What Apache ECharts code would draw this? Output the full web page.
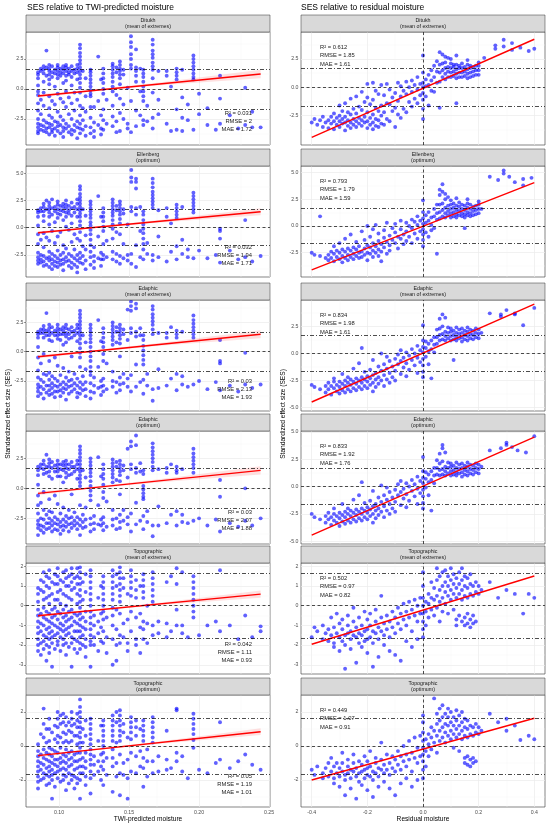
<!DOCTYPE html>
<html>
<head>
<meta charset="utf-8">
<script src="https://cdn.jsdelivr.net/npm/echarts@6/dist/echarts.min.js"></script>
<style>
    html, body { margin: 0; padding: 0; background: #fff; }
    #chart { width: 550px; height: 825px; }
</style>
</head>
<body>
<div id="chart"></div>
<script>
// ---------------- data ----------------
const stripTitles = [
    ['Ditukh', '(mean of extremes)'],
    ['Ellenberg', '(optimum)'],
    ['Edaphic', '(mean of extremes)'],
    ['Edaphic', '(optimum)'],
    ['Topographic', '(mean of extremes)'],
    ['Topographic', '(optimum)']
];
// R2, RMSE, MAE
const twiStats = [['0.031', '2', '1.72'], ['0.032', '1.94', '1.71'], ['0.03', '2.13', '1.93'],
    ['0.03', '2.07', '1.88'], ['0.042', '1.11', '0.93'], ['0.05', '1.19', '1.01']];
const residStats = [['0.612', '1.85', '1.61'], ['0.793', '1.79', '1.59'], ['0.834', '1.98', '1.61'],
    ['0.833', '1.92', '1.76'], ['0.502', '0.97', '0.82'], ['0.449', '1.07', '0.91']];

const twiTicks = [0.10, 0.15, 0.20, 0.25];
const residTicks = [-0.4, -0.2, 0.0, 0.2, 0.4];
const twiYTicks = [[-2.5, 0, 2.5], [-2.5, 0, 2.5, 5], [-2.5, 0, 2.5], [-2.5, 0, 2.5], [-3, -2, -1, 0, 1, 2], [-2, 0, 2]];
const residYTicks = [[-2.5, 0, 2.5], [-2.5, 0, 2.5, 5], [-5, -2.5, 0, 2.5, 5], [-5, -2.5, 0, 2.5, 5], [-3, -2, -1, 0, 1, 2], [-2, 0, 2]];

// thresholds drawn as reference lines
const sesZero = 0;
const sesSig = 1.65;

// fitted lines (start, end)
const twiFitX = [0.085, 0.244];
const twiFitY = [[-0.58, 1.25], [-0.46, 1.47], [-0.43, 1.49], [-0.42, 1.5], [-0.51, 0.59], [-0.57, 0.84]];
const residFitX = [-0.4, 0.4];
const residFitY = [[-4.41, 4.24], [-4.11, 4.05], [-4.48, 4.54], [-4.43, 4.52], [-1.96, 1.51], [-2.0, 1.63]];
// confidence band of the TWI fits: [x, lower, upper]
const twiBands = [
    [[0.085, -0.73, -0.43], [0.12, -0.25, -0.11], [0.17, 0.28, 0.52], [0.244, 0.9, 1.6]],
    [[0.085, -0.6, -0.32], [0.12, -0.1, 0.03], [0.17, 0.46, 0.68], [0.244, 1.15, 1.79]],
    [[0.085, -0.58, -0.28], [0.12, -0.08, 0.06], [0.17, 0.48, 0.72], [0.244, 1.15, 1.83]],
    [[0.085, -0.57, -0.27], [0.12, -0.07, 0.07], [0.17, 0.49, 0.73], [0.244, 1.16, 1.84]],
    [[0.085, -0.59, -0.43], [0.12, -0.31, -0.23], [0.17, 0.02, 0.14], [0.244, 0.41, 0.77]],
    [[0.085, -0.66, -0.48], [0.12, -0.3, -0.22], [0.17, 0.11, 0.25], [0.244, 0.64, 1.04]]
];

// points, one row per x value: [x, y1, y2, ...]
const ditukhTwi = [
    [0.085, 1.4, 1.2, 0.9, 0.3, -0.2, -0.5, -1.2, -1.8, -2.5, -2.9, -3.2, -3.5, -3.7],
    [0.087, 1.7, 1.5, -0.9, -2.1, -3.0, -3.4],
    [0.089, 1.9, 1.6, 1.3, 0.6, -0.3, -1.4, -2.6, -3.1, -3.5],
    [0.091, 3.2, 1.8, 1.1, -2.8, -3.3, -3.6],
    [0.093, 2.0, 1.7, 1.5, 1.2, 0.8, 0.4, -0.6, -1.6, -2.2, -2.9, -3.2, -3.8],
    [0.095, 1.9, 1.4, 1.0, -1.0, -2.4, -3.0, -3.4, -3.6],
    [0.097, 1.6, 1.3, 0.2, -1.3, -2.7, -3.3, -3.9],
    [0.099, 2.0, 1.8, 1.5, 1.2, 0.9, -0.4, -1.9, -2.8, -3.1, -3.5],
    [0.101, 1.7, 1.4, 1.1, -0.8, -2.3, -3.0, -3.7],
    [0.103, 1.9, 1.6, 1.3, 0.5, -1.1, -2.6, -3.2, -3.5, -4.0],
    [0.105, 2.0, 1.8, 1.5, 1.1, 0.7, -0.2, -1.5, -2.9, -3.3],
    [0.107, 1.7, 1.4, 1.2, -0.7, -2.1, -3.1, -3.6],
    [0.109, 1.9, 1.5, 1.0, 0.3, -1.2, -2.5, -3.4, -3.8],
    [0.111, 1.6, 1.3, -0.3, -1.8, -3.0, -3.5],
    [0.113, 2.0, 1.7, 1.4, 0.8, -0.9, -2.7, -3.2, -4.1],
    [0.115, 3.7, 3.4, 3.0, 2.7, 2.4, 2.1, 1.8, 1.5, 1.2, 0.9, 0.5, 0.1, -0.3, -1.4, -2.2, -2.9, -3.3, -3.7],
    [0.117, 1.5, -1.6, -2.6, -3.4],
    [0.119, 0.9, -0.6, -1.9, -3.1, -3.9],
    [0.1225, 1.6, 1.4, 1.1, 0.8, 0.5, 0.2, -0.1, -0.4, -0.6, -1.5, -2.4, -3.2, -3.7],
    [0.125, -1.5, -2.8, -3.5, -4.0],
    [0.128, 2.7, -1.0, -3.0],
    [0.130, 0.8, -2.2, -3.3, -3.8],
    [0.1316, 1.7, 1.3, 0.9, 0.5, 0.0, -0.4, -1.7, -2.6, -3.4],
    [0.134, -0.9, -2.9],
    [0.1383, 2.1, 1.9, 1.6, 1.3, 1.0, 0.6, 0.2, -0.2, -1.4, -2.3, -3.1],
    [0.141, 1.8, 1.4, -0.5, -2.7, -3.6],
    [0.1435, 2.3, 2.0, 1.7, 1.5, 1.2, 0.9, 0.4, -0.8, -2.0, -3.5],
    [0.146, 1.6, 1.2, -1.3, -2.5],
    [0.149, 0.1, -2.9, -3.3],
    [0.1514, 4.4, 3.9, 3.5, 2.9, 2.5, 2.0, 1.7, -1.0, -3.6],
    [0.155, 3.3, 1.8, 1.5, 1.1, 0.6, -1.8, -3.1],
    [0.158, 1.7, -0.2, -2.2],
    [0.1602, 1.6, 1.3, 1.0, 0.6, 0.2, -0.2, -0.6, -1.0, -2.6, -3.0],
    [0.163, -1.4, -2.7],
    [0.1669, 4.1, 3.7, 3.2, 2.9, 2.6, 2.2, 1.9, 1.6, 0.9, -0.3, -2.4, -3.3],
    [0.171, 1.5, -0.9, -2.1],
    [0.1769, 1.5, 1.1, -2.9],
    [0.180, 0.2, -3.5],
    [0.184, 1.7, 1.4, 1.1, 0.8, -1.7, -3.4],
    [0.188, 1.6, -0.7, -2.4, -3.5],
    [0.192, -1.3, -2.6],
    [0.196, 2.8, 2.5, 2.2, 1.9, 1.6, 1.3, 1.0, 0.8, -3.4],
    [0.200, -0.4, -2.1], [0.206, -1.6, -3.0], [0.212, -3.4], [0.215, 1.1, -0.8, -2.9],
    [0.222, -2.2], [0.228, -3.3], [0.233, 0.1, -3.0], [0.238, -1.9, -3.2], [0.244, -3.2]
];
const ellenbergTwi = [
    [0.085, 1.6, 1.4, 1.0, 0.2, -0.6, -1.5, -2.3, -2.7, -3.0, -3.3],
    [0.087, 1.8, 1.5, -1.1, -2.5, -2.9, -3.2],
    [0.089, 2.2, 1.9, 1.5, 1.1, 0.6, -0.5, -1.8, -2.6, -3.1, -3.5],
    [0.091, 2.5, 1.7, -0.9, -2.8, -3.4],
    [0.093, 2.3, 2.0, 1.7, 1.4, 1.0, 0.3, -1.2, -2.2, -2.7, -3.0, -3.6],
    [0.095, 2.6, 1.8, 1.2, -0.3, -2.4, -2.9, -3.3, -3.8],
    [0.097, 1.9, 1.5, 0.5, -1.4, -2.6, -3.1, -3.5],
    [0.099, 2.4, 2.1, 1.7, 1.3, 0.9, -0.8, -2.1, -2.8, -3.2, -3.6],
    [0.101, 2.0, 1.6, 1.2, -0.4, -2.5, -3.0, -3.4],
    [0.103, 2.2, 1.9, 1.5, 0.7, -1.6, -2.3, -2.9, -3.3, -3.9],
    [0.105, 2.5, 2.1, 1.8, 1.4, 1.0, 0.1, -1.9, -2.7, -3.1],
    [0.107, 2.0, 1.6, 1.3, -0.2, -2.4, -3.0, -3.5],
    [0.109, 2.3, 1.8, 1.1, 0.4, -1.3, -2.6, -3.2, -3.7],
    [0.111, 1.9, 1.4, -0.6, -2.0, -2.8, -3.4],
    [0.113, 2.6, 2.2, 1.7, 1.0, -1.0, -2.5, -3.0, -3.6, -4.1],
    [0.115, 3.8, 3.5, 3.1, 2.8, 2.5, 2.2, 1.9, 1.6, 1.3, 1.0, 0.6, 0.2, -0.4, -1.2, -2.3, -2.8, -3.2],
    [0.117, 1.7, -1.7, -2.6, -3.3],
    [0.119, 1.1, -0.7, -2.0, -3.0, -3.8],
    [0.1225, 2.4, 2.1, 1.8, 1.5, 1.2, 0.9, 0.5, 0.2, -0.2, -0.6, -1.1, -1.6, -2.2, -2.7, -3.4],
    [0.125, -1.8, -2.6, -3.1, -3.7],
    [0.128, 2.9, -0.8, -2.8],
    [0.130, 1.0, -2.3, -2.9, -3.5],
    [0.1316, 1.8, 1.4, 1.0, 0.6, 0.1, -0.3, -1.5, -2.5, -2.9],
    [0.134, -1.2, -2.7],
    [0.1383, 2.6, 2.3, 2.0, 1.7, 1.4, 1.1, 0.7, 0.3, -0.1, -1.0, -2.2, -2.9],
    [0.141, 2.0, 1.6, -0.4, -2.4, -3.1],
    [0.1435, 2.4, 2.1, 1.8, 1.5, 1.2, 0.8, 0.4, -0.6, -2.6, -3.3],
    [0.146, 1.7, 1.3, -1.5, -2.8],
    [0.149, 0.3, -2.5, -3.0],
    [0.1516, 5.3, 4.6, 4.2, 1.9, 1.5, -2.4, -3.3],
    [0.155, 4.5, 4.2, 3.6, 1.8, 1.2, -1.6, -3.6],
    [0.158, 1.9, -0.3, -2.7],
    [0.1602, 1.5, 1.2, 0.7, 0.3, -0.1, -0.5, -1.0, -1.5, -2.0, -2.9],
    [0.163, -1.4, -2.4],
    [0.1669, 4.5, 4.1, 3.7, 3.3, 3.0, 2.7, 2.4, 2.1, 1.8, -2.5, -3.0],
    [0.171, 1.6, -0.8, -2.7],
    [0.1769, 1.8, 1.0, -3.1],
    [0.180, 0.4, -2.2],
    [0.184, 2.1, 1.8, 1.5, 1.2, 0.9, -1.7, -2.9],
    [0.188, 1.9, -1.1, -2.4],
    [0.192, -2.0, -2.7],
    [0.196, 3.2, 2.9, 2.6, 2.3, 2.0, 1.7, 1.4, -2.8],
    [0.200, -2.1], [0.206, -2.8], [0.212, -2.5], [0.215, -0.1, -0.3, -1.0, -3.2],
    [0.222, -2.1], [0.228, -2.9], [0.233, 0.7, -2.7], [0.238, -3.1], [0.244, -2.6]
];
const edaphicMeanTwi = [
    [0.085, 1.7, 1.5, 1.2, 0.4, -0.5, -1.6, -2.2, -2.8, -3.1, -3.4, -3.8],
    [0.087, 1.9, 1.6, -1.0, -2.4, -3.0, -3.6],
    [0.089, 2.2, 1.9, 1.6, 1.2, -0.2, -1.9, -2.6, -3.2, -4.0],
    [0.091, 3.3, 1.8, 1.4, -2.0, -2.9, -3.5],
    [0.093, 2.3, 2.0, 1.7, 1.4, 1.0, -0.8, -1.8, -2.4, -2.9, -3.3, -3.7],
    [0.095, 2.1, 1.6, 0.9, -2.1, -2.7, -3.1, -3.6],
    [0.097, 1.8, 1.4, -0.5, -2.3, -2.9, -3.4, -3.9],
    [0.099, 2.3, 2.0, 1.7, 1.4, 1.1, -1.2, -2.5, -3.0, -3.4],
    [0.101, 1.9, 1.5, 1.0, -2.0, -2.8, -3.3, -3.8],
    [0.103, 2.1, 1.8, 1.5, 0.6, -1.4, -2.6, -3.1, -3.5],
    [0.105, 2.3, 2.0, 1.6, 1.3, 0.8, -2.2, -2.8, -3.2, -4.1],
    [0.107, 1.9, 1.5, 1.1, -1.7, -2.5, -3.0, -3.6],
    [0.109, 2.1, 1.7, 1.2, -0.4, -2.4, -2.9, -3.4],
    [0.111, 1.8, 1.4, -1.9, -2.7, -3.2],
    [0.113, 2.3, 2.0, 1.6, 0.9, -2.3, -2.9, -3.5, -3.9],
    [0.115, 3.5, 3.2, 2.9, 2.6, 2.3, 2.0, 1.7, 1.4, 1.1, 0.7, 0.3, -0.1, -0.5, -1.3, -2.6, -3.1, -3.6],
    [0.117, 1.4, -2.1, -2.8, -3.3],
    [0.119, 0.8, -1.5, -2.6, -3.2, -3.8],
    [0.1225, 2.3, 2.0, 1.7, 1.4, 1.1, 0.8, 0.4, 0.0, -0.4, -0.8, -1.3, -1.7, -2.0, -2.7, -3.4, -4.0],
    [0.125, -2.2, -2.9, -3.5],
    [0.128, 2.7, -1.3, -3.1],
    [0.130, 0.9, -2.5, -3.0, -3.7],
    [0.1316, 2.0, 1.6, 1.2, 0.8, 0.4, -0.2, -0.8, -2.3, -2.9, -3.4],
    [0.134, -1.0, -3.2],
    [0.1383, 2.5, 2.2, 1.9, 1.6, 1.3, 1.0, 0.6, -1.7, -2.5, -3.0],
    [0.141, 2.1, 1.7, 0.8, -2.6, -3.5],
    [0.1435, 2.3, 2.0, 1.7, 1.4, 1.1, 0.7, -0.4, -2.2, -2.8, -3.3],
    [0.146, 1.9, 1.5, -1.9, -2.7],
    [0.149, 3.6, 1.0, -2.3, -3.0],
    [0.1514, 4.3, 3.9, 3.5, 2.0, 1.6, -2.0, -3.4],
    [0.155, 4.1, 3.7, 1.7, 1.3, -1.1, -3.0],
    [0.158, 2.0, 1.4, -2.6],
    [0.1602, 1.4, 1.0, 0.5, 0.1, -0.3, -0.7, -1.1, -2.4, -3.6],
    [0.163, -1.9, -2.9],
    [0.1669, 3.9, 3.6, 3.2, 2.9, 2.6, 2.3, 1.9, 1.5, -3.2, -4.2],
    [0.171, 1.6, -1.5, -3.1],
    [0.1769, 1.6, 1.2, -2.9],
    [0.180, 2.1, -2.3],
    [0.184, 1.8, 1.5, 1.2, -1.9, -3.3],
    [0.188, 1.7, -2.1, -2.8],
    [0.192, -3.0],
    [0.196, 3.1, 2.7, 2.4, 2.1, 1.8, 1.5, 1.2, -2.8],
    [0.200, -2.5], [0.206, -3.2], [0.212, -2.6], [0.215, 1.0, -0.8, -1.0, -3.3],
    [0.222, -2.9], [0.228, -3.4], [0.233, -0.1, -2.8], [0.238, -3.1], [0.244, -2.8]
];
const edaphicOptTwi = [
    [0.085, 1.8, 1.5, 1.1, 0.3, -0.6, -1.4, -2.1, -2.7, -3.0, -3.3, -3.9],
    [0.087, 2.0, 1.7, -1.2, -2.5, -3.1, -3.5],
    [0.089, 2.3, 2.0, 1.6, 1.2, -0.3, -1.8, -2.6, -3.2, -3.7],
    [0.091, 2.8, 1.8, 1.3, -2.2, -2.9, -3.4],
    [0.093, 2.4, 2.1, 1.8, 1.4, 1.0, -0.9, -1.9, -2.5, -2.9, -3.3],
    [0.095, 2.2, 1.7, 0.8, -2.0, -2.7, -3.1, -3.6],
    [0.097, 1.9, 1.4, -0.6, -2.4, -2.9, -3.4],
    [0.099, 2.3, 2.0, 1.7, 1.4, 1.0, -1.3, -2.6, -3.0, -3.5],
    [0.101, 2.0, 1.6, 1.0, -2.1, -2.8, -3.2, -3.8],
    [0.103, 2.2, 1.9, 1.5, 0.5, -1.6, -2.6, -3.1, -3.5],
    [0.105, 2.3, 2.0, 1.7, 1.3, 0.9, -2.3, -2.8, -3.2],
    [0.107, 2.0, 1.6, 1.1, -1.8, -2.5, -3.0, -3.6],
    [0.109, 2.2, 1.8, 1.2, -0.5, -2.4, -2.9, -3.3],
    [0.111, 1.8, 1.4, -2.0, -2.7, -3.1],
    [0.113, 2.3, 2.0, 1.6, 0.8, -2.4, -2.9, -3.4],
    [0.115, 3.5, 3.2, 2.9, 2.6, 2.3, 2.0, 1.7, 1.4, 1.1, 0.8, 0.5, 0.2, -1.4, -2.6, -3.1, -3.9],
    [0.117, 1.5, -2.2, -2.8, -3.3],
    [0.119, 0.9, -1.6, -2.6, -3.2],
    [0.1225, 2.5, 2.2, 1.9, 1.6, 1.3, 1.0, 0.6, 0.2, -0.2, -0.6, -1.0, -2.5, -3.0, -3.6],
    [0.125, -2.3, -2.9, -3.4],
    [0.128, 2.6, -1.4, -3.0],
    [0.130, 1.0, -2.6, -3.1],
    [0.1316, 2.0, 1.6, 1.2, 0.8, 0.3, -0.3, -0.8, -2.4, -2.9, -3.5],
    [0.134, -1.1, -3.2],
    [0.1383, 2.4, 2.1, 1.8, 1.5, 1.2, 0.9, 0.5, -1.8, -2.6, -3.1],
    [0.141, 2.2, 1.8, 0.7, -2.5, -3.4],
    [0.1435, 2.3, 2.0, 1.7, 1.4, 1.1, 0.6, -0.5, -2.2, -2.8, -3.3],
    [0.146, 1.9, 1.5, -1.8, -2.7],
    [0.149, 3.3, 0.9, -2.4, -3.0],
    [0.1514, 3.9, 3.5, 2.0, 1.6, -2.1, -3.6],
    [0.155, 4.4, 3.6, 1.7, 1.3, -1.2, -3.0],
    [0.158, 2.1, 1.4, -2.7],
    [0.1602, 1.5, 1.2, 0.2, -0.1, -0.4, -0.7, -0.9, -2.3, -3.4],
    [0.163, -1.9, -2.8],
    [0.1669, 3.75, 3.4, 3.1, 2.8, 2.5, 2.2, 1.8, 1.5, -3.1, -4.0],
    [0.171, 1.6, -1.5, -3.1],
    [0.1769, 1.7, 1.3, -2.9],
    [0.180, 2.0, -2.2],
    [0.184, 1.8, 1.5, 1.3, -1.9, -3.1],
    [0.188, 1.6, -2.2, -2.8],
    [0.192, -2.9],
    [0.196, 3.3, 2.9, 2.6, 2.3, 2.0, 1.7, 1.3, -2.7],
    [0.200, -2.5], [0.206, -3.1], [0.212, -2.6], [0.215, 0.7, -0.7, -3.6],
    [0.222, -2.9], [0.228, -3.2], [0.233, 0.0, -2.7], [0.238, -3.1], [0.244, -2.5]
];
const topoMeanTwi = [
    [0.085, 0.9, 0.6, 0.2, -0.2, -0.5, -0.8, -1.1, -1.4, -1.7, -2.0, -2.3],
    [0.087, 1.3, 0.8, -0.4, -0.9, -1.3, -1.9, -2.5],
    [0.089, 1.7, 1.2, 0.7, 0.3, -0.1, -0.6, -1.0, -1.5, -1.8, -2.2],
    [0.091, 1.5, 1.0, 0.4, -0.3, -0.7, -1.2, -1.6, -2.0, -2.8],
    [0.093, 1.8, 1.4, 0.9, 0.5, 0.1, -0.4, -0.8, -1.1, -1.4, -1.7, -2.1, -2.4],
    [0.095, 1.2, 0.6, -0.2, -0.6, -0.9, -1.3, -1.6, -1.9, -3.1],
    [0.097, 1.6, 1.1, 0.3, -0.1, -0.5, -1.0, -1.5, -2.2],
    [0.099, 1.9, 1.5, 1.1, 0.7, 0.3, -0.3, -0.7, -1.1, -1.4, -1.8, -2.0],
    [0.101, 1.3, 0.8, 0.1, -0.4, -0.9, -1.2, -1.6, -2.3],
    [0.103, 1.7, 1.2, 0.6, -0.2, -0.6, -1.0, -1.3, -1.7, -2.0],
    [0.105, 1.8, 1.4, 1.0, 0.5, 0.0, -0.5, -0.8, -1.2, -1.5, -1.9, -2.5],
    [0.107, 1.5, 1.0, 0.4, -0.3, -0.7, -1.1, -1.4, -2.1],
    [0.109, 1.9, 1.6, 1.2, 0.8, 0.3, -0.2, -0.6, -1.0, -1.6, -1.9, -3.1],
    [0.111, 1.4, 0.9, -0.4, -0.8, -1.3, -1.7, -2.2],
    [0.113, 1.9, 1.5, 1.1, 0.6, 0.1, -0.5, -0.9, -1.3, -1.8, -2.4],
    [0.115, 1.95, 1.7, 1.4, 1.1, 0.8, 0.5, 0.2, -0.1, -0.4, -0.7, -1.0, -1.3, -1.6, -1.9, -2.2],
    [0.117, 1.2, 0.3, -0.6, -1.1, -1.5, -2.0],
    [0.119, 1.6, 0.7, -0.3, -0.8, -1.2, -1.7, -2.1, -2.6],
    [0.1225, 1.8, 1.5, 1.2, 0.9, 0.6, 0.3, 0.0, -0.3, -0.6, -0.9, -1.2, -1.5, -1.8, -2.0, -3.1],
    [0.125, -0.5, -1.0, -1.6, -2.0],
    [0.128, 0.4, -0.8, -1.4, -2.3],
    [0.130, 1.0, -0.4, -1.1, -1.8],
    [0.1316, 1.5, 1.2, 0.9, 0.6, 0.3, 0.0, -0.3, -0.7, -1.3, -1.9],
    [0.134, -0.6, -1.6, -2.4],
    [0.1383, 1.8, 1.5, 1.2, 0.9, 0.6, 0.3, -0.1, -0.5, -1.0, -1.7, -3.0],
    [0.141, 1.6, 1.0, -0.2, -1.2, -2.0, -2.8],
    [0.1435, 1.95, 1.7, 1.4, 1.1, 0.8, 0.5, 0.2, -0.4, -1.5, -1.9],
    [0.146, 1.4, 0.9, -0.9, -1.6],
    [0.149, 0.6, -0.7, -1.9, -2.3],
    [0.1514, 1.8, 1.5, 1.2, 0.9, 0.5, -0.3, -1.3],
    [0.155, 1.3, 0.8, 0.4, -0.6, -1.7, -2.0],
    [0.158, 1.0, -0.4, -1.1, -2.4],
    [0.1602, 1.6, 1.3, 1.0, 0.7, 0.4, -0.8, -1.2, -1.7],
    [0.163, 0.0, -0.9, -1.9],
    [0.1669, 1.7, 1.4, 1.1, 0.8, 0.5, 0.2, -1.0, -1.5],
    [0.171, -0.8, -1.4],
    [0.1769, 1.2, -0.9, -1.6],
    [0.180, 1.5, -1.3],
    [0.184, 1.9, 1.1, -0.2, -1.0],
    [0.188, 1.7, -1.4, -1.0],
    [0.192, -1.6],
    [0.196, 1.5, 1.2, 0.9, 0.6, 0.3, 0.0, -0.3, -0.6],
    [0.200, -1.5], [0.206, -1.0], [0.212, -0.8], [0.215, 1.8, -1.3],
    [0.222, -1.0], [0.228, -1.7], [0.233, -0.5], [0.238, -1.6], [0.244, -1.3, -1.05]
];
const topoOptTwi = [
    [0.085, 0.1, -0.3, -0.6, -0.9, -1.2, -1.5, -1.8, -2.1, -2.5],
    [0.087, 0.7, -0.5, -1.0, -1.4, -2.0],
    [0.089, 2.2, 1.3, 0.5, -0.2, -0.7, -1.1, -1.6, -1.9],
    [0.091, 1.0, 0.2, -0.4, -0.8, -1.3, -1.7, -2.3],
    [0.093, 1.6, 1.0, 0.3, -0.1, -0.5, -0.9, -1.2, -1.5, -1.8, -2.2],
    [0.095, 0.8, -0.2, -0.6, -1.0, -1.4, -1.7, -2.0, -3.1],
    [0.097, 1.2, 0.4, -0.3, -0.8, -1.1, -1.6, -2.4],
    [0.099, 2.0, 1.6, 1.1, 0.6, 0.2, -0.4, -0.8, -1.2, -1.5, -1.9],
    [0.101, 1.8, 1.3, 0.5, -0.1, -0.7, -1.0, -1.4, -2.1],
    [0.103, 1.9, 1.4, 0.8, 0.2, -0.5, -0.9, -1.3, -1.7, -2.0],
    [0.105, 1.7, 1.2, 0.7, 0.3, -0.2, -0.6, -1.0, -1.4, -1.8, -2.6],
    [0.107, 1.4, 0.9, 0.2, -0.4, -0.8, -1.2, -1.6, -2.2],
    [0.109, 2.0, 1.6, 1.2, 0.8, 0.3, -0.3, -0.7, -1.1, -1.7, -2.0],
    [0.111, 1.3, 0.6, -0.5, -0.9, -1.4, -1.8, -2.5],
    [0.113, 1.9, 1.5, 1.1, 0.6, 0.1, -0.4, -0.9, -1.3, -1.9, -2.2],
    [0.115, 2.74, 2.3, 2.0, 1.7, 1.4, 1.1, 0.8, 0.5, 0.2, -0.1, -0.4, -0.8, -1.2, -1.6, -2.0, -3.1],
    [0.117, 1.0, 0.2, -0.7, -1.2, -1.6],
    [0.119, 1.5, 0.6, -0.4, -0.9, -1.3, -1.8, -2.3],
    [0.1225, 1.6, 1.3, 1.0, 0.7, 0.4, 0.1, -0.2, -0.5, -0.8, -1.1, -1.5, -1.9, -2.8],
    [0.125, -0.6, -1.1, -1.7],
    [0.128, 0.3, -0.9, -1.5],
    [0.130, 1.2, -0.5, -1.2, -2.0],
    [0.1316, 1.5, 1.2, 0.9, 0.6, 0.3, 0.0, -0.4, -0.9, -1.4, -2.3],
    [0.134, -0.7, -1.7],
    [0.1383, 1.8, 1.5, 1.2, 0.9, 0.6, 0.3, -0.2, -0.7, -1.2, -2.7],
    [0.141, 2.0, 1.4, 0.2, -1.0, -1.8],
    [0.1435, 2.1, 1.8, 1.5, 1.2, 0.9, 0.6, 0.3, -0.5, -1.6, -2.9],
    [0.146, 1.3, 0.8, -1.0, -1.7],
    [0.149, 0.5, -0.8, -1.9, -3.1],
    [0.1514, 1.7, 1.4, 1.1, 0.8, 0.4, -0.4, -1.5],
    [0.155, 1.5, 1.1, 0.6, -0.6, -1.6],
    [0.158, 1.0, -0.3, -1.2],
    [0.1602, 1.5, 1.2, 0.9, 0.6, 0.3, -0.7, -1.3, -2.4],
    [0.163, -0.2, -0.9, -1.8],
    [0.1669, 1.7, 1.4, 1.1, 0.8, 0.5, 0.2, -0.9, -1.6],
    [0.171, -0.6, -1.5],
    [0.1769, 0.9, -0.8, -1.4],
    [0.180, -1.3],
    [0.184, 2.2, 2.1, -0.4, -0.9],
    [0.188, -1.5, -0.6],
    [0.192, -1.9],
    [0.196, 1.9, 1.6, 1.3, 1.0, 0.7, 0.35, -0.1],
    [0.200, -1.4], [0.206, -1.6], [0.212, -1.0], [0.215, 1.4, -0.8],
    [0.222, -1.3], [0.228, -0.9], [0.233, -0.5], [0.238, -1.1], [0.244, -1.4]
];

const ditukhResid = [
    [-0.40, -3.1], [-0.39, -2.8], [-0.38, -3.3], [-0.37, -2.9], [-0.36, -3.5, -2.6], [-0.35, -3.1],
    [-0.34, -3.6, -2.9], [-0.33, -3.2, -2.6], [-0.32, -3.7, -3.0, -2.3], [-0.31, -3.3, -2.7],
    [-0.30, -3.5, -3.0, -2.5, -1.6], [-0.29, -3.2, -2.8, -2.1], [-0.28, -3.8, -3.1, -2.6, -1.4], [-0.27, -3.4, -2.9, -2.2],
    [-0.26, -3.6, -3.1, -2.4, -1.0], [-0.25, -3.3, -2.8, -1.9], [-0.24, -3.5, -3.0, -2.3, -0.8], [-0.23, -3.2, -2.7, -1.7],
    [-0.22, -3.4, -2.9, -2.0, -0.4], [-0.21, -3.1, -2.6, -1.3], [-0.20, -3.6, -3.0, -2.2, -0.9, 0.3], [-0.19, -3.3, -2.7, -1.5],
    [-0.18, -3.7, -3.1, -2.4, -1.1, 0.4], [-0.17, -3.4, -2.8, -1.8, -0.3], [-0.16, -3.5, -2.9, -2.1, -0.6], [-0.15, -3.2, -2.5, -1.6, 0.2],
    [-0.14, -3.3, -2.2, -0.7], [-0.13, -2.8, -1.4, 0.3], [-0.12, -3.0, -1.5, -0.2], [-0.11, -2.1, -0.9],
    [-0.10, -3.5, -1.8, -0.5], [-0.09, -2.4, -1.2, 0.4], [-0.08, -2.7, -0.8, 0.1], [-0.07, -1.9, -0.3],
    [-0.06, -2.2, -0.6, 0.5], [-0.05, -1.3, 0.0], [-0.04, -1.7, -0.4, 0.6], [-0.03, -1.0, 0.2],
    [-0.02, -1.4, -0.2, 0.9], [-0.01, -0.7, 0.3], [0.00, -2.8, -1.9, -1.1, -0.5, 0.0, 0.4, 1.3, 2.8], [0.01, -0.8, 0.1, 0.7],
    [0.02, -1.6, 0.2, 1.1], [0.03, -0.3, 0.6, 1.5], [0.04, -0.4, 0.9, 1.9], [0.05, 0.4, 1.4, 2.3],
    [0.06, -1.8, 0.5, 1.3, 2.0, 3.1], [0.07, 0.9, 1.5, 2.1, 2.9], [0.08, 0.7, 1.2, 1.7, 2.2, 2.7], [0.09, 0.9, 1.4, 1.8, 2.6],
    [0.10, 0.9, 1.3, 1.7, 2.1, 2.5], [0.11, 1.0, 1.4, 1.8, 2.0], [0.12, -1.4, 0.8, 1.2, 1.6, 2.0, 2.8], [0.13, 0.9, 1.3, 1.7, 1.9],
    [0.14, 0.9, 1.3, 1.7, 2.1], [0.15, 1.0, 1.4, 1.8], [0.16, 0.8, 1.2, 1.6, 2.0, 2.4], [0.17, 0.9, 1.3, 1.7, 1.9],
    [0.18, 1.0, 1.4, 1.8], [0.19, 1.1, 1.5, 1.9], [0.20, 1.1, 1.5, 1.9, 2.2], [0.22, 2.6],
    [0.26, 3.7, 3.4], [0.29, 4.2, 3.6], [0.32, 3.9, 3.3], [0.35, 3.5], [0.38, 3.2], [0.40, 3.4]
];
const ellenbergResid = [
    [-0.40, -2.5], [-0.39, -2.7], [-0.37, 0.9, -2.8], [-0.35, -3.0],
    [-0.34, -2.7, -3.2], [-0.33, -2.4, -3.0], [-0.32, -2.6, -3.3, -1.9], [-0.31, -2.3, -2.9],
    [-0.30, -2.5, -3.1, -1.6], [-0.29, -2.2, -2.8, -3.4], [-0.28, -2.4, -3.0, -1.2], [-0.27, -2.1, -2.7, -3.2],
    [-0.26, -2.3, -2.9, -0.8], [-0.25, -2.0, -2.6, -3.1], [-0.24, -2.2, -2.8, -1.5], [-0.23, -1.9, -2.5, -3.0],
    [-0.22, -2.4, -2.9, -0.5], [-0.21, -2.1, -2.7, -1.3], [-0.20, -1.8, -2.5, -3.2, 0.0], [-0.19, -2.0, -2.6, -1.0],
    [-0.18, -1.6, -2.3, -2.9, -0.3], [-0.17, -1.9, -2.5, 0.1], [-0.16, -1.4, -2.2, -2.8, -0.7], [-0.15, -1.7, -2.4, -3.3],
    [-0.14, -1.1, -2.0, -0.4], [-0.13, -1.5, -2.6, 0.3], [-0.12, -0.9, -1.8, -2.3], [-0.11, -1.3, -0.2],
    [-0.10, -1.6, -0.6, 0.2], [-0.09, -2.1, -1.0], [-0.08, -1.2, -0.3, 0.5], [-0.07, -1.7, -0.8],
    [-0.06, -0.5, 0.3, -1.4], [-0.05, -1.0, 0.0], [-0.04, -1.6, -0.2, 0.6], [-0.03, -0.7, 0.4],
    [-0.02, -1.2, 0.1, 0.9], [-0.01, -0.5, 0.5], [0.00, -1.9, -1.3, -0.8, -0.3, 0.2, 0.7, 1.3, 2.4], [0.01, -0.6, 0.3, 1.0],
    [0.02, -1.0, 0.5, 1.3], [0.03, 0.1, 0.8, -0.4], [0.04, -0.2, 0.9, 1.6], [0.05, 0.6, 1.2, -2.6, 2.0],
    [0.06, 0.7, 1.3, 2.0, 2.9, 3.4], [0.07, 0.9, 1.5, 2.1, 3.2, 3.9], [0.08, 0.8, 1.2, 1.7, 2.5, 3.0], [0.09, 1.0, 1.4, 1.9, 2.7],
    [0.10, 0.8, 1.2, 1.6, 2.0, 2.4], [0.11, 0.9, 1.3, 1.7, 2.1], [0.12, 0.8, 1.1, 1.5, 1.9, 2.6], [0.13, 1.0, 1.4, 1.8, 2.2],
    [0.14, 0.9, 1.2, 1.6, 2.0], [0.15, 0.8, 1.1, 1.5, 1.9, -0.2], [0.16, 1.0, 1.3, 1.7, 2.1, 2.5], [0.17, 0.9, 1.2, 1.6, 2.0],
    [0.18, 1.0, 1.4, 1.8], [0.19, 1.1, 1.5, 1.9], [0.20, 1.2, 1.6, 2.0, 2.3], [0.21, 1.6],
    [0.24, 4.6], [0.27, 4.3], [0.29, 5.2, 4.9], [0.31, 4.6], [0.33, 4.1], [0.36, 4.4, 3.8], [0.39, 4.5]
];
const edaphicMeanResid = [
    [-0.40, -2.9], [-0.39, -3.1], [-0.37, -3.3], [-0.35, -3.0, -3.6],
    [-0.34, -2.7, -3.3], [-0.33, -3.0, -3.8], [-0.32, -2.6, -3.2, -2.3], [-0.31, -2.9, -3.5],
    [-0.30, -2.6, -3.1, -3.7], [-0.29, -2.8, -3.4, -1.9], [-0.28, -2.5, -3.0, -3.6], [-0.27, -2.7, -3.3, -2.2],
    [-0.26, -2.4, -2.9, -3.5], [-0.25, -2.6, -3.2, -1.4], [-0.24, -2.3, -2.8, -3.4], [-0.23, -2.5, -3.1, -0.9],
    [-0.22, -2.2, -2.7, -3.3, 0.5], [-0.21, -2.4, -3.0, -1.7], [-0.20, -2.1, -2.6, -3.2], [-0.19, -1.5, -2.3, -2.9],
    [-0.18, -2.0, -2.7, -3.5, -0.6], [-0.17, -1.8, -2.4, -3.1], [-0.16, -1.2, -2.2, -2.8], [-0.15, -1.6, -2.5, 0.0],
    [-0.14, -1.0, -2.0, -3.0], [-0.13, -1.4, -2.4, -0.3], [-0.12, -0.7, -1.8, -2.7], [-0.11, -1.2, -2.2],
    [-0.10, -0.5, -1.6, -2.5], [-0.09, -1.0, -0.1], [-0.08, -1.9, -0.7, 0.3], [-0.07, -1.3, -0.4],
    [-0.06, -0.9, 0.1, -2.1], [-0.05, -1.5, -0.2], [-0.04, -0.6, 0.4], [-0.03, -1.1, 0.0],
    [-0.02, -0.4, 0.7, -1.8], [-0.01, -0.8, 0.3], [0.00, -2.2, -1.7, -1.1, -0.5, 0.1, 0.6, 1.2, 2.6], [0.01, -0.3, 0.5, 1.1],
    [0.02, 0.2, 0.9, -1.0], [0.03, 0.4, 1.2, -2.3], [0.04, 0.1, 0.8, 1.5], [0.05, 0.9, 1.5, 2.2],
    [0.06, 1.2, 1.7, 2.3, 3.2], [0.07, 1.3, 1.8, 2.5, 3.6], [0.08, 1.2, 1.6, 2.0, 3.3], [0.09, 1.4, 1.9, 2.4],
    [0.10, 1.2, 1.6, 2.0, 2.3], [0.11, 1.3, 1.7, 2.1, -0.6], [0.12, 1.2, 1.5, 1.9, 2.4], [0.13, 1.4, 1.8, 2.2],
    [0.14, 1.1, 1.5, 1.9, 2.3], [0.15, 1.3, 1.7, 2.1], [0.16, 1.2, 1.6, 2.0, 2.4], [0.17, 1.4, 1.8, 2.2],
    [0.18, 1.3, 1.7, 2.1], [0.19, 1.5, 1.9, 2.3], [0.20, 1.4, 1.8, 2.2], [0.21, 1.9],
    [0.24, 3.7], [0.28, 3.4, 3.6], [0.30, 4.0], [0.33, 3.6, 3.7], [0.36, 2.6], [0.40, 4.2]
];
const edaphicOptResid = [
    [-0.40, -2.5], [-0.39, -2.8], [-0.37, -3.0], [-0.35, -2.7, -3.3],
    [-0.34, -2.4, -3.0], [-0.33, -2.8, -3.5], [-0.32, -2.5, -3.1, -2.0], [-0.31, -2.7, -3.3],
    [-0.30, -2.4, -2.9, -3.6], [-0.29, -2.6, -3.2, -1.6], [-0.28, -2.3, -2.8, -3.4], [-0.27, -2.5, -3.1, -2.0],
    [-0.26, -2.2, -2.7, -3.3], [-0.25, -2.4, -3.0, -1.2], [-0.24, -2.1, -2.6, -3.2], [-0.23, -2.3, -2.9, -0.8],
    [-0.22, -2.0, -2.5, -3.1, 0.4], [-0.21, -2.2, -2.8, -1.5], [-0.20, -1.9, -2.4, -3.0], [-0.19, -1.3, -2.1, -2.7],
    [-0.18, -1.8, -2.5, -3.3, -0.4], [-0.17, -1.6, -2.2, -2.9], [-0.16, -1.0, -2.0, -2.6], [-0.15, -1.4, -2.3, 0.1],
    [-0.14, -0.8, -1.8, -2.8], [-0.13, -1.2, -2.2, -0.1], [-0.12, -0.5, -1.6, -2.5], [-0.11, -1.0, -2.0],
    [-0.10, -0.3, -1.4, -2.3], [-0.09, -0.8, 0.2], [-0.08, -1.7, -0.5, 0.5], [-0.07, -1.1, -0.2],
    [-0.06, -0.7, 0.3, -1.9], [-0.05, -1.3, 0.0], [-0.04, -0.4, 0.6], [-0.03, -0.9, 0.2],
    [-0.02, -0.2, 0.9, -1.6], [-0.01, -0.6, 0.5], [0.00, -2.0, -1.5, -0.9, -0.3, 0.3, 0.8, 1.4, 2.7], [0.01, -0.1, 0.7, 1.3],
    [0.02, 0.4, 1.1, -0.8], [0.03, 0.6, 1.4, -2.2], [0.04, 0.3, 1.0, 1.7], [0.05, 1.1, 1.7, 2.4],
    [0.06, 1.0, 1.5, 2.1, 3.0], [0.07, 1.1, 1.6, 2.3, 3.5, 3.8], [0.08, 1.0, 1.4, 1.8, 3.1], [0.09, 1.2, 1.7, 2.2],
    [0.10, 1.0, 1.4, 1.8, 2.1], [0.11, 1.1, 1.5, 1.9], [0.12, 1.0, 1.3, 1.7, 2.2], [0.13, 1.2, 1.6, 2.0],
    [0.14, 0.9, 1.3, 1.7, 2.1], [0.15, 1.1, 1.5, 1.9], [0.16, 1.0, 1.4, 1.8, 2.2], [0.17, 1.2, 1.6, 2.0],
    [0.18, 1.1, 1.5, 1.9], [0.19, 1.3, 1.7, 2.1], [0.20, 1.2, 1.6, 2.0], [0.21, 1.8],
    [0.24, 3.3], [0.28, 3.5], [0.30, 4.0, 3.8], [0.32, 3.6], [0.34, 3.3], [0.37, 3.1], [0.40, 4.6]
];
const topoMeanResid = [
    [-0.40, -1.6], [-0.39, -1.1], [-0.38, -1.3], [-0.36, -1.7, -1.0], [-0.35, -1.4],
    [-0.34, -1.2, -1.8], [-0.33, -0.6, -1.5], [-0.32, -1.1, -1.9, -2.1], [-0.31, -1.4, -0.4],
    [-0.30, -0.9, -1.6, -2.3], [-0.29, -1.2, -1.8, -0.7], [-0.28, -1.5, -2.0, -3.2], [-0.27, -1.0, -1.4, -0.5],
    [-0.26, -1.3, -1.7, -2.2], [-0.25, -0.8, -1.5, -0.1], [-0.24, -1.1, -1.6, -2.9], [-0.23, -1.4, -1.9, -0.6],
    [-0.22, -1.0, -1.5, -2.1], [-0.21, -1.3, -1.8, -0.3], [-0.20, -0.7, -1.2, -1.7, -2.4], [-0.19, -1.0, -1.6, -0.4],
    [-0.18, -1.3, -1.9, -3.1], [-0.17, -0.8, -1.4, -0.2], [-0.16, -1.1, -1.7, -2.6], [-0.15, -0.6, -1.3, 0.5],
    [-0.14, -0.9, -1.5, -2.0], [-0.13, -1.2, -0.5], [-0.12, -0.8, -1.6, -2.3], [-0.11, -1.1, -0.3],
    [-0.10, -0.6, -1.4, -2.5], [-0.09, -0.9, -0.1], [-0.08, -0.4, -1.2, -2.8], [-0.07, -0.7, 0.1],
    [-0.06, -0.3, -1.0, -1.8], [-0.05, -0.6, 0.2], [-0.04, -0.2, -1.3, -2.1], [-0.03, -0.5, 0.3],
    [-0.02, 0.0, -0.8, -1.7], [-0.01, -0.4, 0.4], [0.00, -1.6, -1.2, -0.8, -0.4, 0.0, 0.4, 1.0, 1.7], [0.01, -0.3, 0.2, -1.0],
    [0.02, 0.1, 0.6, -0.6], [0.03, -0.2, 0.4, 1.2], [0.04, 0.3, 0.9, -0.5], [0.05, -0.1, 0.5, 1.3, 1.9],
    [0.06, 0.2, 0.8, 1.5, -0.8], [0.07, 0.4, 1.0, 1.7, -0.3], [0.08, 0.1, 0.7, 1.2, 1.8], [0.09, 0.5, 1.0, 1.5, -0.4],
    [0.10, 0.3, 0.8, 1.3, 1.9], [0.11, 0.6, 1.1, 1.6, -0.2], [0.12, 0.4, 0.9, 1.4, -0.7, -1.0], [0.13, 0.6, 1.1, 1.7, -0.5],
    [0.14, 0.3, 0.8, 1.3, 1.9, -0.8], [0.15, 0.5, 1.0, 1.5, -0.6, -1.0], [0.16, 0.4, 0.9, 1.4, -0.4, -0.9], [0.17, 0.6, 1.1, 1.6, -0.7, -1.1],
    [0.18, 0.5, 1.0, -0.5, -0.9], [0.19, 0.7, 1.2, -0.8], [0.20, 0.6, 1.0], [0.21, 0.8],
    [0.24, 1.2], [0.27, 0.4], [0.30, 0.8], [0.33, 0.6], [0.36, -0.4], [0.38, 0.6], [0.40, 0.4]
];
const topoOptResid = [
    [-0.40, -1.4], [-0.39, -1.7], [-0.38, -1.2], [-0.36, -1.6, -1.9], [-0.35, -1.3],
    [-0.34, -1.0, -1.8], [-0.33, -1.5, -0.7], [-0.32, -1.2, -1.9, -2.2], [-0.31, -1.6, -1.0],
    [-0.30, -1.3, -1.8, -2.4], [-0.29, -1.0, -1.5, -0.4], [-0.28, -1.7, -2.0, -2.9], [-0.27, -1.2, -1.6, -0.8],
    [-0.26, -1.4, -1.9, -2.5], [-0.25, -1.0, -1.5, -0.5], [-0.24, -1.3, -1.8, -3.1], [-0.23, -1.6, -2.1, -0.9],
    [-0.22, -1.1, -1.5, -2.3], [-0.21, -1.4, -1.9, -0.6], [-0.20, -0.9, -1.3, -1.7, -2.6], [-0.19, -1.2, -1.8, -0.3],
    [-0.18, -1.5, -2.0, -3.0], [-0.17, -1.0, -1.6, -0.7], [-0.16, -1.3, -1.8, -2.4], [-0.15, -0.8, -1.4, 0.2],
    [-0.14, -1.1, -1.6, -2.1], [-0.13, -1.4, -0.5], [-0.12, -1.0, -1.7, -2.5], [-0.11, -1.3, -0.6],
    [-0.10, -0.8, -1.5, -2.9], [-0.09, -1.1, -0.3], [-0.08, -0.6, -1.4, -2.2], [-0.07, -0.9, 0.0],
    [-0.06, -0.5, -1.2, -1.9], [-0.05, -0.8, 0.3], [-0.04, -0.4, -1.5, -2.4], [-0.03, -0.7, 0.5],
    [-0.02, -0.1, -1.0, -2.0], [-0.01, -0.6, 0.6], [0.00, -1.9, -1.4, -0.9, -0.5, -0.1, 0.3, 0.8, 1.4, 1.8], [0.01, -0.3, 0.4, -1.2],
    [0.02, 0.1, 0.7, -0.6], [0.03, 0.5, 1.1, -0.2], [0.04, 0.2, 0.9, 2.8], [0.05, 0.6, 1.3, -0.4, 1.9],
    [0.06, 0.3, 0.9, 1.5, 2.2], [0.07, 0.5, 1.1, 1.7, 2.4], [0.08, 0.2, 0.8, 1.3, 1.9], [0.09, 0.6, 1.2, 1.7, 2.2],
    [0.10, 0.4, 0.9, 1.4, 2.0], [0.11, 0.7, 1.2, 1.7, -0.1], [0.12, 0.5, 1.0, 1.5, 2.1], [0.13, 0.7, 1.2, 1.8, -0.3],
    [0.14, 0.4, 0.9, 1.4, 2.0], [0.15, 0.6, 1.1, 1.6, -0.7, -1.0], [0.16, 0.5, 1.0, 1.5, -0.6, -1.1], [0.17, 0.7, 1.2, -0.8, -1.2],
    [0.18, 0.6, 1.1, -0.7, -1.0], [0.19, 0.8, 1.3, -0.9], [0.20, 0.7, 1.1], [0.21, 0.9],
    [0.24, 1.9], [0.27, 1.4], [0.30, 1.6, 0.9], [0.33, 1.2], [0.35, 0.35], [0.38, 0.6], [0.40, 0.4]
];

const twiPoints = [ditukhTwi, ellenbergTwi, edaphicMeanTwi, edaphicOptTwi, topoMeanTwi, topoOptTwi];
const residPoints = [ditukhResid, ellenbergResid, edaphicMeanResid, edaphicOptResid, topoMeanResid, topoOptResid];

// ---------------- layout ----------------
const FONT = '"Liberation Sans", Arial, sans-serif';
const plotTop = [32, 166, 300, 431, 563, 695];
const plotBottom = [145, 277, 411, 544, 674, 807];
const stripH = 17;
const colLeft = [26, 301];
const colWidth = 244;
const twiRange = [0.0764, 0.2507];
const residRange = [-0.4385, 0.4385];
const twiYRange = [[-4.67, 4.75], [-4.52, 5.66], [-5.07, 4.42], [-4.64, 4.78], [-3.47, 2.17], [-3.59, 3.0]];
const residYRange = [[-5.09, 4.88], [-4.77, 5.61], [-5.31, 4.93], [-5.25, 5.07], [-3.47, 2.17], [-3.59, 3.0]];

function expand(rows) {
    const out = [];
    rows.forEach(function (r) {
        for (let j = 1; j < r.length; j++) out.push([r[0], r[j]]);
    });
    return out;
}

function minors(ticks, range) {
    const step = ticks[1] - ticks[0];
    const out = [];
    for (let v = ticks[0] - step / 2; v <= range[1]; v += step) {
        if (v >= range[0]) out.push(+v.toFixed(4));
    }
    return out;
}

const majorGrid = {color: '#EBEBEB', width: 0.7, type: 'solid'};
const minorGrid = {color: '#F4F4F4', width: 0.4, type: 'solid'};
const dashed = {color: '#000', width: 0.7, type: [3, 2.5]};
const dotdash = {color: '#000', width: 0.7, type: [4, 2, 1, 2]};

const chart = echarts.init(document.getElementById('chart'), null, {renderer: 'canvas'});

const grids = [], xAxes = [], yAxes = [], series = [], graphics = [];

function addPanel(col, row) {
    const k = col * 6 + row;
    const isTwi = col === 0;
    const xTicks = isTwi ? twiTicks : residTicks;
    const xRange = isTwi ? twiRange : residRange;
    const yTicks = isTwi ? twiYTicks[row] : residYTicks[row];
    const yRange = isTwi ? twiYRange[row] : residYRange[row];
    const yStep = yTicks[1] - yTicks[0];
    const yDec = Number.isInteger(yStep) ? 0 : 1;
    const bottom = row === 5;

    grids.push({
        left: colLeft[col], top: plotTop[row], width: colWidth, height: plotBottom[row] - plotTop[row],
        show: true, borderColor: '#333', borderWidth: 0.6, backgroundColor: '#fff',
        containLabel: false, outerBoundsMode: 'none'
    });
    xAxes.push({
        gridIndex: k, type: 'value', min: xRange[0], max: xRange[1],
        axisLine: {show: false},
        splitLine: {show: false},
        axisTick: {show: bottom, length: 2, customValues: xTicks, lineStyle: {color: '#333', width: 0.5}},
        axisLabel: {
            show: bottom, customValues: xTicks, margin: 3, fontSize: 5.2, color: '#4D4D4D', fontFamily: FONT,
            formatter: function (v) { return v.toFixed(isTwi ? 2 : 1); }
        }
    });
    yAxes.push({
        gridIndex: k, type: 'value', min: yRange[0], max: yRange[1],
        axisLine: {show: false},
        splitLine: {show: false},
        axisTick: {show: true, length: 2, customValues: yTicks, lineStyle: {color: '#333', width: 0.5}},
        axisLabel: {
            show: true, customValues: yTicks, margin: 2.5, fontSize: 5.2, color: '#4D4D4D', fontFamily: FONT,
            formatter: function (v) { return v.toFixed(yDec); }
        }
    });

    // background grid lines
    const gl = [];
    minors(yTicks, yRange).forEach(function (v) { gl.push({yAxis: v, lineStyle: minorGrid}); });
    minors(xTicks, xRange).forEach(function (v) { gl.push({xAxis: v, lineStyle: minorGrid}); });
    yTicks.forEach(function (v) { gl.push({yAxis: v, lineStyle: majorGrid}); });
    xTicks.forEach(function (v) { if (v <= xRange[1]) gl.push({xAxis: v, lineStyle: majorGrid}); });
    series.push({
        type: 'line', xAxisIndex: k, yAxisIndex: k, data: [], silent: true,
        markLine: {silent: true, z: 1, symbol: ['none', 'none'], label: {show: false}, animation: false, data: gl}
    });

    // points
    series.push({
        type: 'scatter', xAxisIndex: k, yAxisIndex: k, z: 2, silent: true,
        symbolSize: 3.9,
        itemStyle: {color: 'rgba(0,0,255,0.62)', opacity: 1},
        data: expand(isTwi ? twiPoints[row] : residPoints[row])
    });

    // confidence band
    if (isTwi) {
        const band = twiBands[row];
        series.push({
            type: 'custom', xAxisIndex: k, yAxisIndex: k, z: 3, silent: true,
            data: band,
            renderItem: function (params, api) {
                if (params.dataIndex !== 0) return null;
                const up = band.map(function (b) { return api.coord([b[0], b[2]]); });
                const lo = band.slice().reverse().map(function (b) { return api.coord([b[0], b[1]]); });
                return {type: 'polygon', shape: {points: up.concat(lo)}, style: {fill: 'rgba(255,0,0,0.12)'}};
            }
        });
    }

    // reference lines
    const refs = [
        {yAxis: sesZero, lineStyle: dashed},
        {yAxis: sesSig, lineStyle: dotdash},
        {yAxis: -sesSig, lineStyle: dotdash}
    ];
    if (!isTwi) refs.push({xAxis: 0, lineStyle: dashed});

    // fitted line
    const fx = isTwi ? twiFitX : residFitX;
    const fy = isTwi ? twiFitY[row] : residFitY[row];
    series.push({
        type: 'line', xAxisIndex: k, yAxisIndex: k, z: 4, silent: true,
        showSymbol: false, symbol: 'none',
        lineStyle: {color: '#FF0000', width: 1.4},
        data: [[fx[0], fy[0]], [fx[1], fy[1]]],
        markLine: {silent: true, z: 5, symbol: ['none', 'none'], label: {show: false}, animation: false, data: refs}
    });

    // strip
    const sx = colLeft[col], sy = plotTop[row] - stripH;
    graphics.push({
        type: 'rect', shape: {x: sx, y: sy, width: colWidth, height: stripH},
        style: {fill: '#D9D9D9', stroke: '#333', lineWidth: 0.5}, z: 10
    });
    graphics.push({
        type: 'text', x: sx + colWidth / 2, y: sy + 6, z: 11,
        style: {text: stripTitles[row][0], font: '5.3px ' + FONT, fill: '#1A1A1A', align: 'center', verticalAlign: 'middle'}
    });
    graphics.push({
        type: 'text', x: sx + colWidth / 2, y: sy + 12, z: 11,
        style: {text: stripTitles[row][1], font: '5.3px ' + FONT, fill: '#1A1A1A', align: 'center', verticalAlign: 'middle'}
    });

    // statistics
    const st = isTwi ? twiStats[row] : residStats[row];
    const lines = ['R\u00b2 = ' + st[0], 'RMSE = ' + st[1], 'MAE = ' + st[2]];
    lines.forEach(function (t, j) {
        graphics.push({
            type: 'text', z: 12,
            x: isTwi ? 252 : 320,
            y: plotTop[row] + (isTwi ? 81 + j * 8 : 15.5 + j * 8.3),
            style: {text: t, font: '5.8px ' + FONT, fill: '#222', align: isTwi ? 'right' : 'left', verticalAlign: 'middle'}
        });
    });
}

for (let c = 0; c < 2; c++) {
    for (let r = 0; r < 6; r++) addPanel(c, r);
}

// titles
graphics.push({type: 'text', x: 27, y: 7.5, style: {text: 'SES relative to TWI-predicted moisture', font: '8.5px ' + FONT, fill: '#000', align: 'left', verticalAlign: 'middle'}});
graphics.push({type: 'text', x: 301, y: 7.5, style: {text: 'SES relative to residual moisture', font: '8.5px ' + FONT, fill: '#000', align: 'left', verticalAlign: 'middle'}});
graphics.push({type: 'text', x: 8, y: 414, rotation: Math.PI / 2, style: {text: 'Standardized effect size (SES)', font: '6.6px ' + FONT, fill: '#000', align: 'center', verticalAlign: 'middle'}});
graphics.push({type: 'text', x: 283, y: 414, rotation: Math.PI / 2, style: {text: 'Standardized effect size (SES)', font: '6.6px ' + FONT, fill: '#000', align: 'center', verticalAlign: 'middle'}});
graphics.push({type: 'text', x: colLeft[0] + colWidth / 2, y: 819, style: {text: 'TWI-predicted moisture', font: '6.6px ' + FONT, fill: '#000', align: 'center', verticalAlign: 'middle'}});
graphics.push({type: 'text', x: colLeft[1] + colWidth / 2, y: 819, style: {text: 'Residual moisture', font: '6.6px ' + FONT, fill: '#000', align: 'center', verticalAlign: 'middle'}});

chart.setOption({
    animation: false,
    backgroundColor: '#fff',
    grid: grids,
    xAxis: xAxes,
    yAxis: yAxes,
    series: series,
    graphic: {elements: graphics}
});
</script>
</body>
</html>
